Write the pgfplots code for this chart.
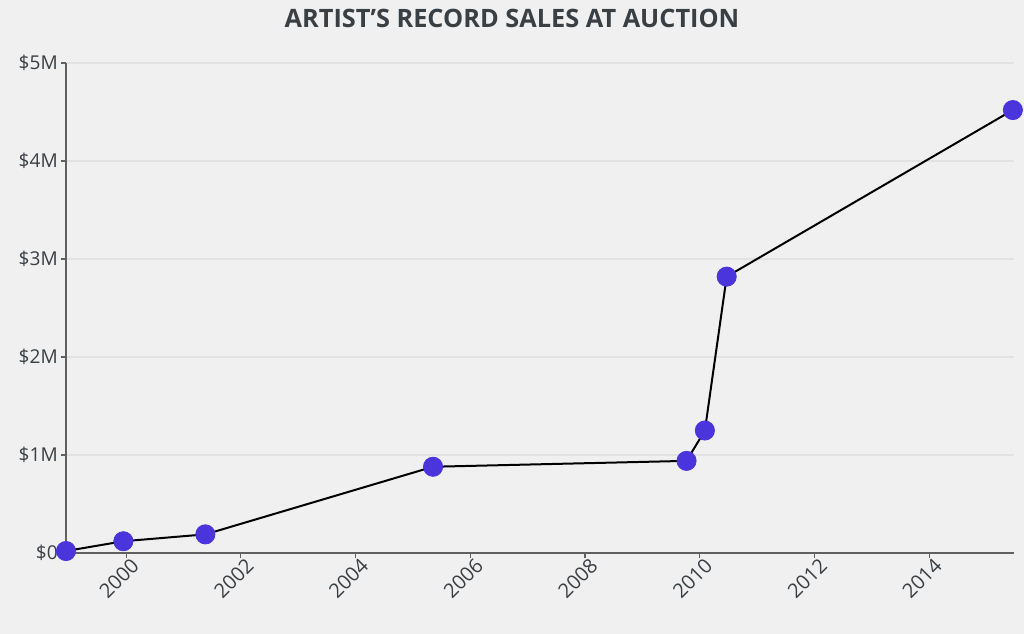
\documentclass[border=0pt]{standalone}
\usepackage{pgfplots}
\pgfplotsset{compat=1.18}
\usepackage{fontspec}
\setmainfont{Open Sans}
\definecolor{bg}{HTML}{F0F0F0}
\definecolor{txt}{HTML}{3A3F44}
\definecolor{mk}{HTML}{4A35DC}
\definecolor{gridc}{HTML}{E2E2E2}
\definecolor{axc}{HTML}{606060}
\begin{document}
\begin{tikzpicture}
\fill[bg] (0pt,0pt) rectangle (768pt,475.5pt);
\useasboundingbox (0pt,0pt) rectangle (768pt,475.5pt);
\node[text=txt,font=\fontsize{19}{22}\selectfont\bfseries] at (384pt,462pt) {ARTIST’S RECORD SALES AT AUCTION};
\begin{axis}[
  at={(49.5pt,60.75pt)}, anchor=south west,
  scale only axis, width=711pt, height=367.5pt,
  xmin=1998.95, xmax=2015.48, ymin=0, ymax=5,
  axis lines=left, axis line style={draw=axc, line width=0.8pt, -},
  xtick={2000,2002,2004,2006,2008,2010,2012,2014},
  xticklabels={2000,2002,2004,2006,2008,2010,2012,2014},
  ytick={0,1,2,3,4,5},
  yticklabels={\$0,\$1M,\$2M,\$3M,\$4M,\$5M},
  tick align=outside, major tick length=4pt,
  tick style={draw=axc, line width=0.8pt},
  ymajorgrids, major grid style={draw=gridc, line width=0.8pt},
  xticklabel style={rotate=45, anchor=north east, font=\fontsize{15}{17}\selectfont, text=txt, inner sep=1pt, xshift=4pt},
  yticklabel style={font=\fontsize{14.3}{16}\selectfont, text=txt, inner sep=2pt},
  clip=false,
]
\addplot[black, line width=1.5pt, mark=*, mark size=7.2pt, mark options={solid, fill=mk, draw=mk, line width=0.6pt}]
coordinates {
(1998.95,0.02)
(1999.95,0.12)
(2001.38,0.19)
(2005.35,0.88)
(2009.77,0.94)
(2010.09,1.25)
(2010.47,2.82)
(2015.46,4.52)
};
\end{axis}
\end{tikzpicture}
\end{document}
